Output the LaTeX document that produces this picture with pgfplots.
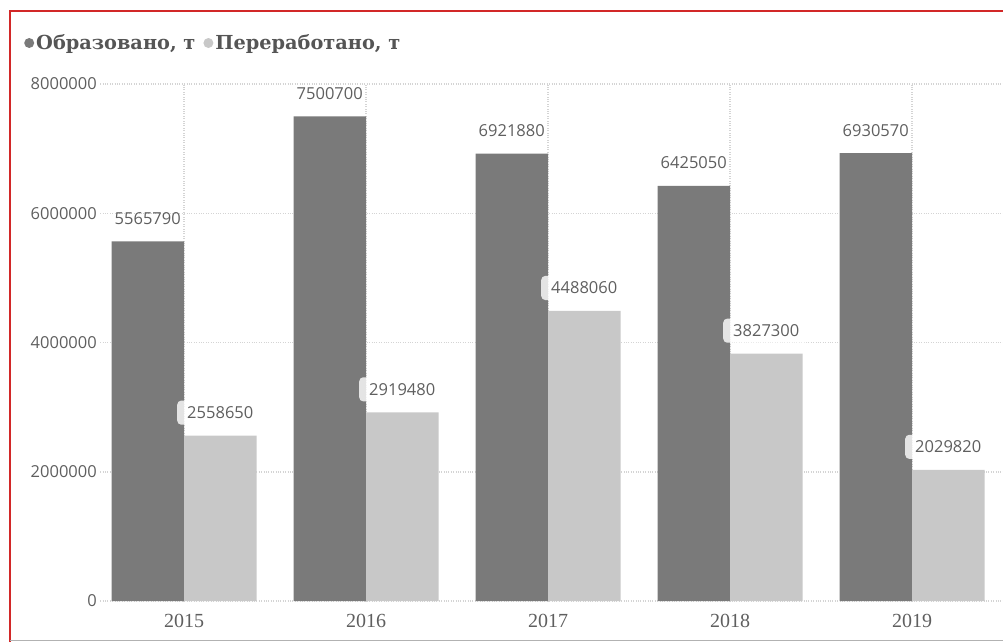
\documentclass[border=0pt]{standalone}
\usepackage{fontspec}
\setmainfont{Liberation Serif}
\newfontfamily\sans{Open Sans}
\newfontfamily\legfont{DejaVu Serif}
\usepackage{pgfplots}
\pgfplotsset{compat=1.18}
\definecolor{darkbar}{RGB}{122,122,122}
\definecolor{lightbar}{RGB}{200,200,200}
\definecolor{txt}{RGB}{95,95,95}
\definecolor{legtxt}{RGB}{85,85,85}
\definecolor{gridc}{RGB}{212,212,212}
\definecolor{framered}{RGB}{210,40,40}
\begin{document}
\begin{tikzpicture}
\begin{axis}[
  at={(0pt,0pt)}, anchor=south west,
  scale only axis, width=902.7pt, height=517pt,
  xmin=-0.46, xmax=4.5, ymin=0, ymax=8000000,
  ybar=0pt, bar width=72.5pt,
  xtick={0,1,2,3,4}, xticklabels={2015,2016,2017,2018,2019},
  ytick={0,2000000,4000000,6000000,8000000},
  scaled y ticks=false,
  /pgf/number format/assume math mode=true,
  yticklabel style={/pgf/number format/fixed, /pgf/number format/1000 sep={},
    font=\sans\fontsize{16.5}{18}\selectfont, text=txt},
  xticklabel style={font=\fontsize{20}{22}\selectfont, text=txt, yshift=-5pt},
  axis line style={draw=none}, major tick style={draw=none},
  xmajorgrids, ymajorgrids,
  grid style={gridc, dotted, line width=1.5pt},
  point meta=explicit symbolic,
  legend style={at={(axis description cs:-0.0845,1.0793)}, anchor=west,
    draw=none, fill=none, inner sep=0pt, legend columns=2,
    font=\legfont\bfseries\fontsize{19.3}{22}\selectfont, nodes={text=legtxt},
    /tikz/every even column/.append style={column sep=6pt}},
]
\addplot[fill=darkbar, draw=none,
  legend image code/.code={\fill[darkbar] (5pt,0pt) circle (5pt);},
  nodes near coords,
  every node near coord/.append style={font=\sans\fontsize{16.5}{18}\selectfont, text=txt, anchor=center, yshift=23pt}]
  coordinates {(0,5565790)[5565790] (1,7500700)[7500700] (2,6921880)[6921880] (3,6425050)[6425050] (4,6930570)[6930570]};
\addlegendentry{Образовано, т}
\addplot[fill=lightbar, draw=none,
  legend image code/.code={\fill[lightbar] (5pt,0pt) circle (5pt);},
  nodes near coords,
  every node near coord/.append style={font=\sans\fontsize{16.5}{18}\selectfont, text=txt, anchor=center, yshift=23pt,
    fill=white, fill opacity=0.8, text opacity=1, rounded corners=4pt, inner xsep=10pt, inner ysep=6pt}]
  coordinates {(0,2558650)[2558650] (1,2919480)[2919480] (2,4488060)[4488060] (3,3827300)[3827300] (4,2029820)[2029820]};
\addlegendentry{Переработано, т}
\end{axis}
\draw[framered, line width=1.5pt] (-90.3pt,-41pt) -- (-90.3pt,590pt) -- (902.7pt,590pt);
\draw[gray!60, line width=1pt] (-90.3pt,-39pt) -- (902.7pt,-39pt);
\pgfresetboundingbox
\path[use as bounding box] (-100.3pt,-41pt) rectangle (902.7pt,601pt);
\end{tikzpicture}
\end{document}
